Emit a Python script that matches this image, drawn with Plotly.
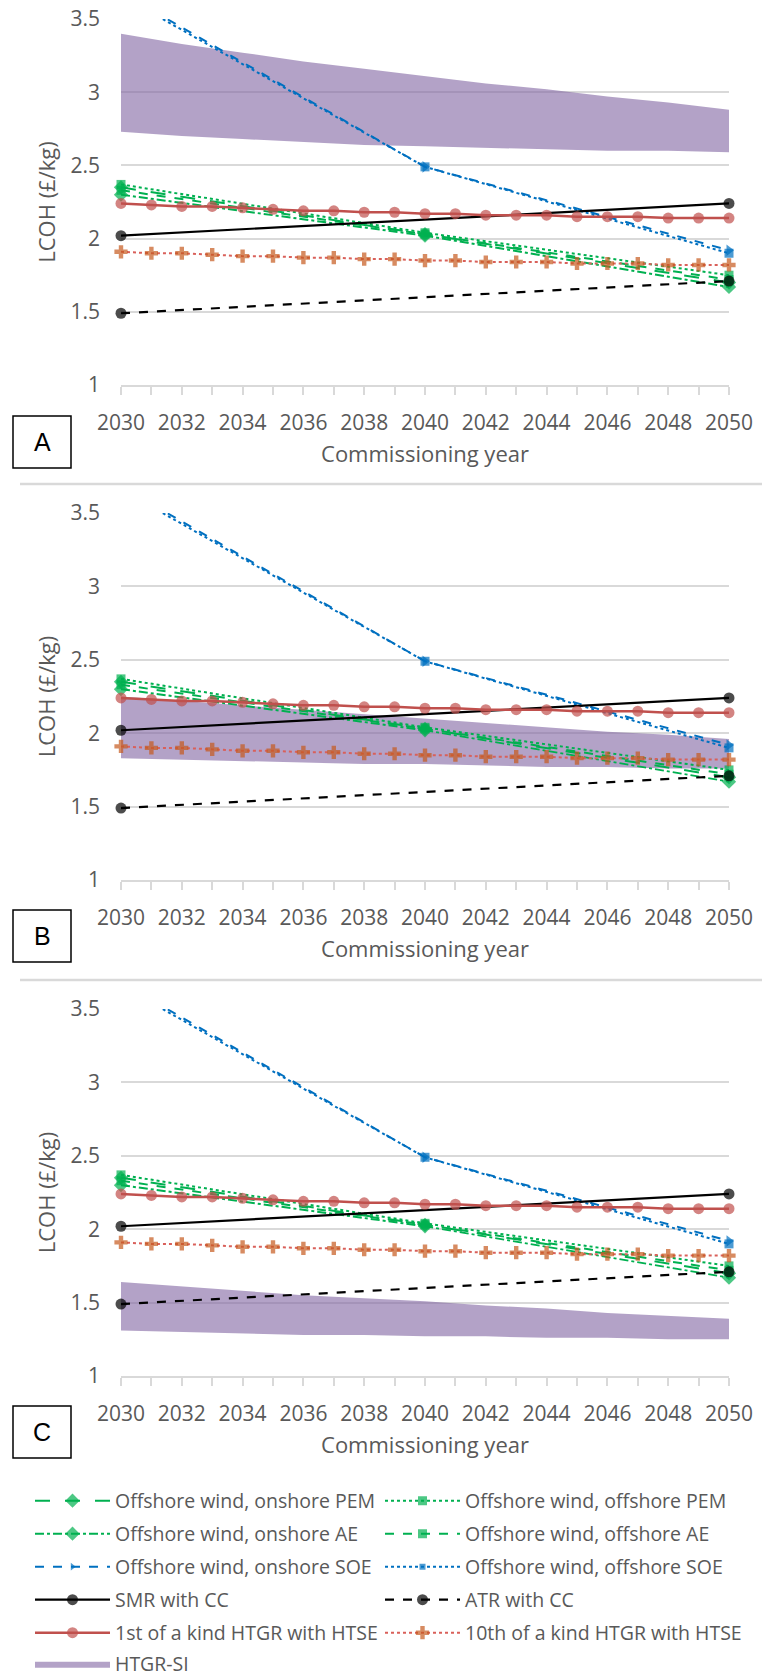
import plotly.graph_objects as go
from plotly.subplots import make_subplots

# ---------------- data ----------------
years_annual = list(range(2030, 2051))
years_decade = [2030, 2040, 2050]
years_ends = [2030, 2050]
years_band = list(range(2030, 2051, 2))

x_tick_vals = list(range(2030, 2051))
x_tick_text = [str(y) if y % 2 == 0 else "" for y in x_tick_vals]
y_tick_vals = [1, 1.5, 2, 2.5, 3, 3.5]
y_tick_text = ["1", "1.5", "2", "2.5", "3", "3.5"]

on_pem = [2.35, 2.03, 1.70]
off_pem = [2.37, 2.04, 1.75]
on_ae = [2.30, 2.02, 1.67]
off_ae = [2.33, 2.03, 1.72]
on_soe = [3.68, 2.49, 1.92]
off_soe = [3.66, 2.49, 1.90]
smr_cc = [2.02, 2.24]
atr_cc = [1.49, 1.71]
foak_htse = [2.24, 2.23, 2.22, 2.22, 2.21, 2.20, 2.19, 2.19, 2.18, 2.18, 2.17,
             2.17, 2.16, 2.16, 2.16, 2.15, 2.15, 2.15, 2.14, 2.14, 2.14]
noak_htse = [1.91, 1.90, 1.90, 1.89, 1.88, 1.88, 1.87, 1.87, 1.86, 1.86, 1.85,
             1.85, 1.84, 1.84, 1.84, 1.83, 1.83, 1.83, 1.82, 1.82, 1.82]

si_a_hi = [3.40, 3.33, 3.27, 3.21, 3.16, 3.11, 3.06, 3.02, 2.97, 2.93, 2.88]
si_a_lo = [2.73, 2.70, 2.68, 2.66, 2.64, 2.63, 2.62, 2.61, 2.60, 2.60, 2.59]
si_b_hi = [2.25, 2.22, 2.19, 2.16, 2.13, 2.10, 2.07, 2.04, 2.01, 1.99, 1.96]
si_b_lo = [1.83, 1.82, 1.81, 1.80, 1.79, 1.79, 1.78, 1.77, 1.77, 1.76, 1.76]
si_c_hi = [1.64, 1.61, 1.58, 1.55, 1.53, 1.51, 1.48, 1.46, 1.43, 1.41, 1.39]
si_c_lo = [1.31, 1.30, 1.29, 1.28, 1.28, 1.27, 1.27, 1.26, 1.26, 1.25, 1.25]

panel_labels = ["A", "B", "C"]
bands = [(si_a_lo, si_a_hi), (si_b_lo, si_b_hi), (si_c_lo, si_c_hi)]

# ---------------- style ----------------
GREEN = "#00B050"
BLUE = "#0070C0"
RED = "#C0504D"
ORANGE = "#C65A1E"
GREY_TXT = "#595959"
GRID = "#D9D9D9"
FONT = "Open Sans, Liberation Sans, sans-serif"

W, H = 762, 1680
L, R, T, B = 121, 33, 19, 304
PW = W - L - R
PH = H - T - B


def px_x(p):
    return (p - L) / PW


def px_y(p):
    return (H - B - p) / PH


# legend slot positions (pixel x of column, pixel y of row centre)
COL_X = [30, 380]
ROW_Y = [1501, 1534, 1567, 1600, 1633, 1664]

fig = make_subplots(rows=3, cols=1)

series = [
    # name, x, y, marker color, dash, symbol, (col,row), line color, marker size, line width
    ("Offshore wind, onshore PEM", years_decade, on_pem, GREEN, "longdash", "diamond", (0, 0), GREEN, 11, 2),
    ("Offshore wind, offshore PEM", years_decade, off_pem, GREEN, "dot", "square", (1, 0), GREEN, 9, 2),
    ("Offshore wind, onshore AE", years_decade, on_ae, GREEN, "dashdot", "diamond", (0, 1), GREEN, 11, 2),
    ("Offshore wind, offshore AE", years_decade, off_ae, GREEN, "dash", "square", (1, 1), GREEN, 9, 2),
    ("Offshore wind, onshore SOE", years_decade, on_soe, BLUE, "dash", "triangle-right", (0, 2), BLUE, 10, 2),
    ("Offshore wind, offshore SOE", years_decade, off_soe, BLUE, "dot", "square", (1, 2), BLUE, 9, 2),
    ("SMR with CC", years_ends, smr_cc, "black", "solid", "circle", (0, 3), "black", 11, 2.2),
    ("ATR with CC", years_ends, atr_cc, "black", "dash", "circle", (1, 3), "black", 11, 2.2),
    ("1st of a kind HTGR with HTSE", years_annual, foak_htse, RED, "solid", "circle", (0, 4), RED, 11, 2.5),
    ("10th of a kind HTGR with HTSE", years_annual, noak_htse, ORANGE, "dot", "cross", (1, 4), "#D9605A", 11, 2),
]
band_slot = (0, 5)

legend_layout = {}


def legend_id(k):
    return "legend" if k == 0 else "legend%d" % (k + 1)


slots = [s[6] for s in series] + [band_slot]
for k, (c, r) in enumerate(slots):
    legend_layout[legend_id(k)] = dict(
        x=px_x(COL_X[c]), y=px_y(ROW_Y[r]), xanchor="left", yanchor="middle",
        orientation="v", font=dict(family=FONT, size=19.5, color=GREY_TXT),
        itemwidth=75, bgcolor="rgba(0,0,0,0)")
band_legend = legend_id(len(series))

for i, (lo, hi) in enumerate(bands):
    row = i + 1
    fig.add_trace(go.Scatter(x=years_band, y=lo, mode="lines", line=dict(width=0),
                             showlegend=False, hoverinfo="skip"), row=row, col=1)
    fig.add_trace(go.Scatter(x=years_band, y=hi, mode="lines", line=dict(width=0),
                             fill="tonexty", fillcolor="rgba(128,100,162,0.6)",
                             name="HTGR-SI", legend=band_legend,
                             legendgroup="si", showlegend=(i == 0)), row=row, col=1)
    for k, (name, xs, ys, color, dash, symbol, slot, lcol, msize, lw) in enumerate(series):
        sizes = [0 if v > 3.5 else msize for v in ys]
        fig.add_trace(go.Scatter(
            x=xs, y=ys, mode="lines+markers", name=name,
            line=dict(color=lcol, width=lw, dash=dash),
            marker=dict(color=color, size=sizes, symbol=symbol, line=dict(width=0)),
            cliponaxis=False, legend=legend_id(k), legendgroup=name,
            showlegend=(i == 0)), row=row, col=1)

domains = [(px_y(385), px_y(19)), (px_y(880), px_y(513)), (px_y(1376), px_y(1009))]
for i in range(3):
    ax = "" if i == 0 else str(i + 1)
    fig.layout["xaxis" + ax].update(
        domain=[0, 1], range=[2030, 2050], tickmode="array",
        tickvals=x_tick_vals, ticktext=x_tick_text, showgrid=False,
        showline=True, linecolor=GRID, linewidth=2, ticks="outside",
        ticklen=8, tickwidth=1.5, tickcolor=GRID, ticklabelstandoff=10,
        tickfont=dict(family=FONT, size=21, color=GREY_TXT),
        title=dict(text="Commissioning year", standoff=11,
                   font=dict(family=FONT, size=22, color=GREY_TXT)),
        zeroline=False)
    fig.layout["yaxis" + ax].update(
        domain=list(domains[i]), range=[1, 3.5], tickmode="array",
        tickvals=y_tick_vals, ticktext=y_tick_text, showgrid=True,
        gridcolor=GRID, gridwidth=2, ticks="", ticklabelstandoff=20,
        showline=False, zeroline=False,
        tickfont=dict(family=FONT, size=21, color=GREY_TXT),
        title=dict(text="LCOH (£/kg)", standoff=8,
                   font=dict(family=FONT, size=22, color=GREY_TXT)))

# panel letter boxes
box_tops = [416, 910, 1406]
for lab, top in zip(panel_labels, box_tops):
    fig.add_shape(type="rect", xref="paper", yref="paper",
                  x0=px_x(13), x1=px_x(71), y0=px_y(top + 52), y1=px_y(top),
                  line=dict(color="black", width=1.5), fillcolor="white")
    fig.add_annotation(xref="paper", yref="paper", x=px_x(42), y=px_y(top + 26),
                       text=lab, showarrow=False, xanchor="center", yanchor="middle",
                       font=dict(family="Liberation Sans, Arial, sans-serif", size=25, color="black"))

# separator lines between panels
for p in [484, 980]:
    fig.add_shape(type="line", xref="paper", yref="paper",
                  x0=px_x(20), x1=px_x(762), y0=px_y(p), y1=px_y(p),
                  line=dict(color=GRID, width=2.5))

fig.update_layout(
    width=W, height=H, margin=dict(l=L, r=R, t=T, b=B, autoexpand=False),
    paper_bgcolor="white", plot_bgcolor="white",
    **legend_layout,
)

fig.write_html("out.html", config={"displayModeBar": False},
               post_script="document.body.style.margin='0';document.body.style.overflow='hidden';")
